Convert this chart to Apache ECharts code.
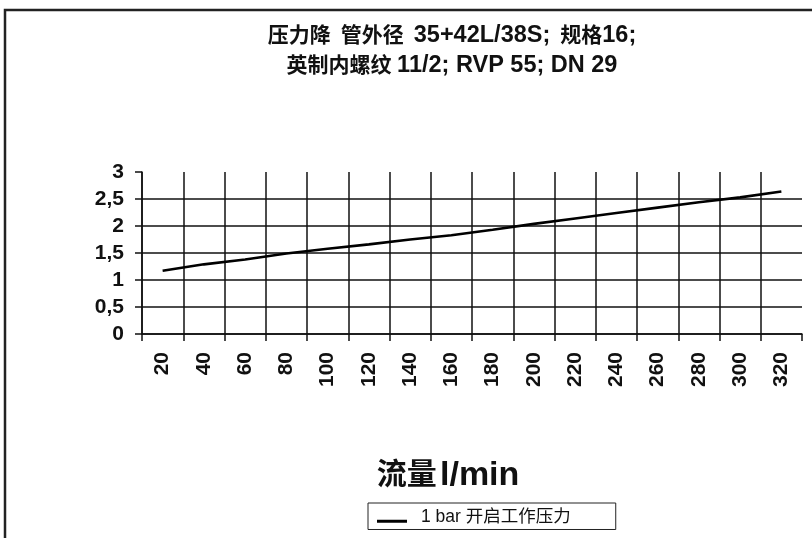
<!DOCTYPE html>
<html>
<head>
<meta charset="utf-8">
<title>压力降</title>
<script src="https://cdn.jsdelivr.net/npm/echarts@6/dist/echarts.min.js"></script>
<style>
  html, body { margin: 0; padding: 0; background: #fff; }
  #chart { width: 812px; height: 538px; }
</style>
</head>
<body>
<div id="chart"></div>
<script>
  // 流量 l/min
  var flowCategories = ['20', '40', '60', '80', '100', '120', '140', '160', '180', '200', '220', '240', '260', '280', '300', '320']
  // 1 bar 开启工作压力
  var pressureDrop = [1.17, 1.29, 1.38, 1.49, 1.58, 1.66, 1.75, 1.83, 1.93, 2.04, 2.14, 2.24, 2.34, 2.44, 2.53, 2.64]
  var yTicks = [0, 0.5, 1, 1.5, 2, 2.5, 3]

  var FONT = '"Liberation Sans", Arial, "Noto Sans CJK SC", sans-serif'
  var INK = '#111'

  // 最右/最上的网格线不画
  var vLineColors = flowCategories.map(function () { return INK }).concat(['rgba(0,0,0,0)'])
  var hLineColors = yTicks.slice(0, -1).map(function () { return INK }).concat(['rgba(0,0,0,0)'])

  // 中文和数字字号不一样 (原图数字偏宽)
  var titleRich = {
    c: { fontFamily: FONT, fontSize: 21, fontWeight: 'bold', color: '#111', lineHeight: 30 },
    a: { fontFamily: FONT, fontSize: 23.5, fontWeight: 'bold', color: '#111', lineHeight: 30 },
    s: { width: 10, lineHeight: 30 }
  }

  var option = {
    backgroundColor: '#fff',
    animation: false,
    textStyle: { fontFamily: FONT, color: '#000' },
    title: {
      text: '{c|压力降}{s| }{c|管外径}{s| }{a|35+42L/38S;}{s| }{c|规格}{a|16;}\n{c|英制内螺纹} {a|11/2; RVP 55; DN 29}',
      left: 447,
      top: 16,
      textAlign: 'center',
      textStyle: { fontFamily: FONT, fontSize: 20, fontWeight: 'bold', lineHeight: 30, color: '#111', rich: titleRich }
    },
    legend: {
      left: 368,
      top: 503,
      padding: [5, 45, 4, 9],
      borderColor: '#222',
      borderWidth: 1,
      icon: 'path://M0,0L0,0.01M0,9L30,9L30,12L0,12Z',
      itemWidth: 30,
      itemHeight: 12,
      itemGap: 10,
      textStyle: { fontFamily: FONT, fontSize: 17.5, color: '#111', padding: [0, 0, 0, 9] },
      data: ['1 bar 开启工作压力']
    },
    grid: { left: 142, right: 10, top: 172, bottom: 204 },
    xAxis: {
      type: 'category',
      data: flowCategories,
      boundaryGap: true,
      name: '{c|流量} {a|l/min}',
      nameLocation: 'middle',
      nameGap: 125,
      nameTextStyle: {
        padding: [0, 48, 0, 0],
        rich: {
          c: { fontFamily: FONT, fontSize: 30, fontWeight: 'bold', color: '#111' },
          a: { fontFamily: FONT, fontSize: 34, fontWeight: 'bold', color: '#111' }
        }
      },
      axisLine: { show: true, lineStyle: { color: INK, width: 1.5 } },
      axisTick: { show: true, inside: false, length: 7, alignWithLabel: false, lineStyle: { color: INK, width: 1.5 } },
      axisLabel: { rotate: 90, margin: 18, fontFamily: FONT, fontSize: 21, fontWeight: 'bold', color: '#111', interval: 0 },
      splitLine: { show: true, lineStyle: { color: vLineColors, width: 1.5 } }
    },
    yAxis: {
      type: 'value',
      min: 0,
      max: 3,
      interval: 0.5,
      axisLine: { show: true, lineStyle: { color: INK, width: 1.5 } },
      axisTick: { show: true, inside: false, length: 7, lineStyle: { color: INK, width: 1.5 } },
      axisLabel: {
        margin: 18,
        fontFamily: FONT,
        fontSize: 21,
        fontWeight: 'bold',
        color: '#111',
        formatter: function (v) { return String(v).replace('.', ',') }
      },
      splitLine: { show: true, lineStyle: { color: hLineColors, width: 1.5 } }
    },
    graphic: [
      {
        type: 'rect',
        shape: { x: 5, y: 10, width: 840, height: 560 },
        style: { fill: 'none', stroke: '#222', lineWidth: 2.5 },
        silent: true
      }
    ],
    series: [
      {
        name: '1 bar 开启工作压力',
        type: 'line',
        data: pressureDrop,
        showSymbol: false,
        symbol: 'none',
        itemStyle: { color: '#000' },
        lineStyle: { color: '#000', width: 2.6 }
      }
    ]
  }

  var chart = echarts.init(document.getElementById('chart'), null, { renderer: 'canvas' })
  chart.setOption(option)
</script>
</body>
</html>
